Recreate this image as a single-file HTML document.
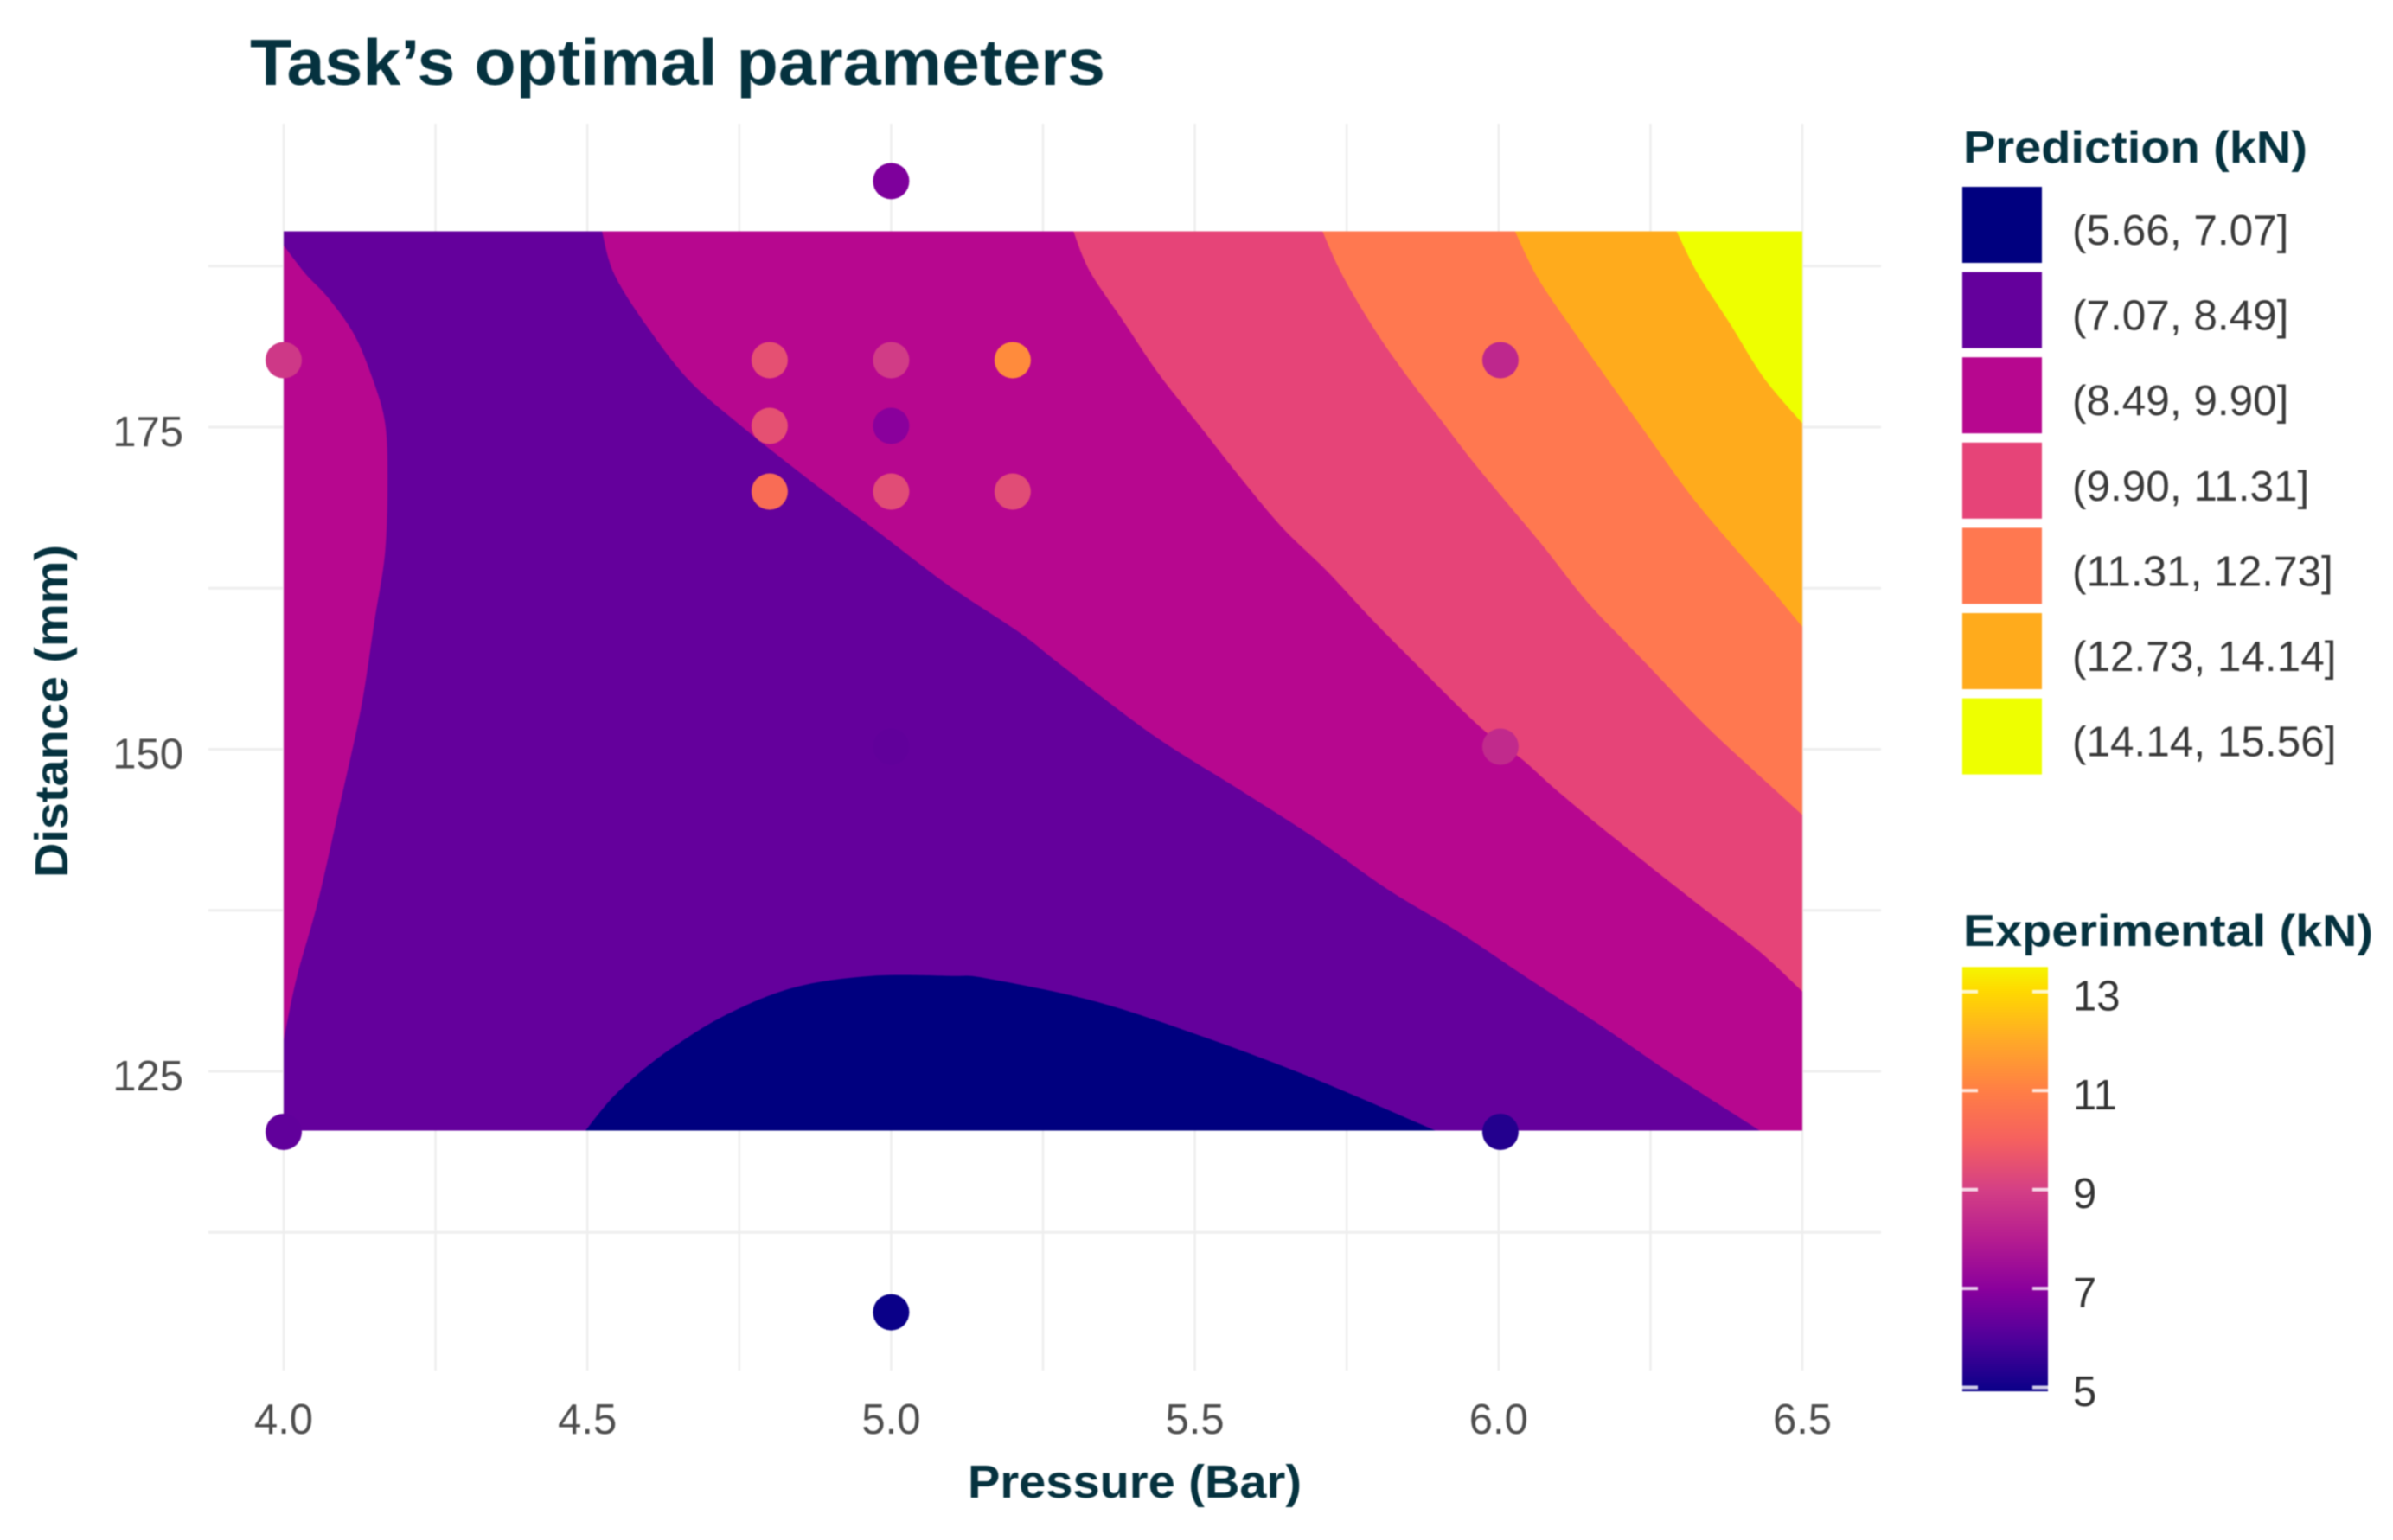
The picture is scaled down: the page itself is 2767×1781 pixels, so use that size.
<!DOCTYPE html>
<html lang="en">
<head>
<meta charset="utf-8">
<title>Task's optimal parameters</title>
<style>
html,body{margin:0;padding:0;background:#fff;}
svg{display:block;filter:blur(0.7px);}
text{font-family:"Liberation Sans",sans-serif;}
.bold{font-weight:700;fill:#05323f;}
</style>
</head>
<body>
<svg id="chart" xmlns="http://www.w3.org/2000/svg" width="2767" height="1781" viewBox="0 0 2767 1781">
  <rect width="2767" height="1781" fill="#ffffff"/>
  <defs>
    <linearGradient id="cbar" x1="0" y1="1" x2="0" y2="0"></linearGradient>
  </defs>
  <g id="grid"></g>
  <g id="bands"></g>
  <g id="points"></g>
  <g id="xticks"></g>
  <g id="yticks"></g>
  <g id="legend"></g>
  <g id="colorbar"></g>

  <text class="bold" x="289" y="98" font-size="75" textLength="989" lengthAdjust="spacingAndGlyphs">Task’s optimal parameters</text>
  <text class="bold" x="1119" y="1732" font-size="54" textLength="386" lengthAdjust="spacingAndGlyphs">Pressure (Bar)</text>
  <text class="bold" transform="translate(78,1015) rotate(-90)" font-size="54" textLength="385" lengthAdjust="spacingAndGlyphs">Distance (mm)</text>
  <text class="bold" x="2270" y="188" font-size="52" textLength="398" lengthAdjust="spacingAndGlyphs">Prediction (kN)</text>
  <text class="bold" x="2270" y="1094" font-size="52" textLength="474" lengthAdjust="spacingAndGlyphs">Experimental (kN)</text>
</svg>
<script>
// ---- axis data ----
const xMajorTicks = [4.0, 4.5, 5.0, 5.5, 6.0, 6.5];
const xTickLabels = ["4.0", "4.5", "5.0", "5.5", "6.0", "6.5"];
const xMinorTicks = [4.25, 4.75, 5.25, 5.75, 6.25];
const yMajorTicks = [125, 150, 175];
const yTickLabels = ["125", "150", "175"];
const yMinorTicks = [112.5, 137.5, 162.5, 187.5];

// ---- contour extent and boundaries, as [pressure, distance] ----
const pMin = 4.0, pMax = 6.5, dMin = 120.4, dMax = 190.2;
const boundaryNavy = [[4.497,120.4],[4.54,122.9],[4.591,125.1],[4.648,127.1],[4.729,129.4],[4.839,131.5],[4.967,132.4],[5.099,132.4],[5.159,132.2],[5.338,130.4],[5.519,127.6],[5.698,124.4],[5.896,120.4]];
const boundaryLeft = [[4.0,189.1],[4.036,186.9],[4.074,185.0],[4.117,182.1],[4.149,178.4],[4.167,175.3],[4.171,171.2],[4.167,165.3],[4.149,159.8],[4.127,153.1],[4.093,145.8],[4.056,138.1],[4.021,132.2],[4.0,127.4]];
const boundaryMagenta = [[4.524,190.2],[4.544,186.9],[4.597,182.9],[4.668,178.6],[4.753,175.1],[4.857,171.2],[4.975,167.0],[5.095,162.7],[5.213,159.0],[5.278,156.6],[5.428,151.2],[5.579,146.7],[5.698,143.1],[5.818,139.1],[5.938,135.7],[6.049,132.2],[6.167,128.6],[6.285,124.8],[6.43,120.4]];
const boundaryPink = [[5.3,190.2],[5.327,187.1],[5.384,183.1],[5.441,179.1],[5.508,175.1],[5.573,171.2],[5.644,167.2],[5.716,163.9],[5.787,160.3],[5.854,157.1],[5.968,151.8],[6.039,149.2],[6.096,146.8],[6.191,143.1],[6.333,137.8],[6.427,134.4],[6.5,131.2]];
const boundaryOrange = [[5.71,190.2],[5.744,186.7],[5.801,182.2],[5.858,178.4],[5.906,175.5],[5.953,172.6],[6.0,169.9],[6.071,165.9],[6.143,161.6],[6.205,158.5],[6.248,156.4],[6.333,152.2],[6.405,149.0],[6.5,144.9]];
const boundaryAmber = [[6.027,190.2],[6.063,186.7],[6.114,183.1],[6.163,179.8],[6.234,175.1],[6.313,169.9],[6.38,166.1],[6.447,162.5],[6.5,159.5]];
const boundaryYellow = [[6.293,190.2],[6.328,186.9],[6.38,183.1],[6.437,178.8],[6.5,175.3]];

// ---- experimental points ----
const pointPressure = [5.0, 4.0, 4.8, 5.0, 5.2, 6.003, 4.8, 5.0, 4.8, 5.0, 5.2, 5.0, 6.003, 4.0, 6.003, 5.0];
const pointDistance = [194.1, 180.2, 180.2, 180.2, 180.2, 180.2, 175.1, 175.1, 170.0, 170.0, 170.0, 150.2, 150.2, 120.3, 120.3, 106.3];
const pointForce = [6.8, 8.8, 9.5, 8.9, 11.3, 8.3, 9.5, 7.0, 10.4, 9.4, 9.4, 6.3, 8.4, 6.3, 5.3, 4.92];

// ---- legends ----
const bandLabels = ["(5.66, 7.07]", "(7.07, 8.49]", "(8.49, 9.90]", "(9.90, 11.31]", "(11.31, 12.73]", "(12.73, 14.14]", "(14.14, 15.56]"];
const bandColors = ["#00007f", "#64009c", "#b7078f", "#e64478", "#ff7850", "#ffab1c", "#eeff00"];
const colorbarTicks = [13, 11, 9, 7, 5];
const colorValues = [4.92, 6, 7, 8, 9, 10, 11, 12, 13, 13.5];
const colorHex = ["#0a0088", "#50009a", "#8a009c", "#b51c90", "#d43f85", "#f5605f", "#ff7e45", "#ffa828", "#ffd800", "#f5f500"];

// ---- scales ----
function xScale(p) { return 328 + (p - 4) * 702.4; }
function yScale(d) { return 1239 - (d - 125) * 14.9; }
function cbScale(v) { return 1604.5 - (v - 5) * 57.2; }

const NS = "http://www.w3.org/2000/svg";
function make(tag, parent, attrs, text) {
  const el = document.createElementNS(NS, tag);
  for (const k in attrs) el.setAttribute(k, attrs[k]);
  if (text !== undefined) el.textContent = text;
  parent.appendChild(el);
  return el;
}
function hexToRgb(h) {
  return [parseInt(h.slice(1,3),16), parseInt(h.slice(3,5),16), parseInt(h.slice(5,7),16)];
}
function forceColor(v) {
  if (v <= colorValues[0]) return colorHex[0];
  for (let i = 1; i < colorValues.length; i++) {
    if (v <= colorValues[i]) {
      const t = (v - colorValues[i-1]) / (colorValues[i] - colorValues[i-1]);
      const a = hexToRgb(colorHex[i-1]), b = hexToRgb(colorHex[i]);
      return "rgb(" + a.map((c, j) => Math.round(c + (b[j] - c) * t)).join(",") + ")";
    }
  }
  return colorHex[colorHex.length - 1];
}

// ---- gridlines ----
const grid = document.getElementById("grid");
xMajorTicks.concat(xMinorTicks).forEach(function (p) {
  const l = make("line", grid, {x1: xScale(p), x2: xScale(p), y1: 143, y2: 1585, stroke: "#eeeeee", "stroke-width": 2.5});
  
  
});
yMajorTicks.concat(yMinorTicks).forEach(function (d) {
  const l = make("line", grid, {x1: 241, x2: 2175, y1: yScale(d), y2: yScale(d), stroke: "#eeeeee", "stroke-width": 3});
  
  
});

// ---- contour bands ----
const bands = document.getElementById("bands");
// smooth curve through a boundary (Catmull-Rom), then straight lines along the plot edge
function pathFrom(boundary, corners) {
  const px = boundary.map(function (q) { return [xScale(q[0]), yScale(q[1])]; });
  let d = "M" + px[0][0].toFixed(1) + " " + px[0][1].toFixed(1);
  for (let i = 0; i < px.length - 1; i++) {
    const p0 = px[Math.max(i - 1, 0)], p1 = px[i], p2 = px[i + 1], p3 = px[Math.min(i + 2, px.length - 1)];
    const c1x = p1[0] + (p2[0] - p0[0]) / 6, c1y = p1[1] + (p2[1] - p0[1]) / 6;
    const c2x = p2[0] - (p3[0] - p1[0]) / 6, c2y = p2[1] - (p3[1] - p1[1]) / 6;
    d += "C" + c1x.toFixed(1) + " " + c1y.toFixed(1) + " " + c2x.toFixed(1) + " " + c2y.toFixed(1) + " " + p2[0].toFixed(1) + " " + p2[1].toFixed(1);
  }
  (corners || []).forEach(function (q) {
    d += "L" + xScale(q[0]).toFixed(1) + " " + yScale(q[1]).toFixed(1);
  });
  return d + "Z";
}
const baseBand = make("path", bands, {d: pathFrom([[pMin,dMin],[pMin,dMax]], [[pMax,dMax],[pMax,dMin]]), fill: bandColors[1]});



const navyBand = make("path", bands, {d: pathFrom(boundaryNavy), fill: bandColors[0]});



const leftBand = make("path", bands, {d: pathFrom(boundaryLeft), fill: bandColors[2]});



const magentaBand = make("path", bands, {d: pathFrom(boundaryMagenta, [[pMax,dMin],[pMax,dMax]]), fill: bandColors[2]});



const pinkBand = make("path", bands, {d: pathFrom(boundaryPink, [[pMax,dMax]]), fill: bandColors[3]});



const orangeBand = make("path", bands, {d: pathFrom(boundaryOrange, [[pMax,dMax]]), fill: bandColors[4]});



const amberBand = make("path", bands, {d: pathFrom(boundaryAmber, [[pMax,dMax]]), fill: bandColors[5]});



const yellowBand = make("path", bands, {d: pathFrom(boundaryYellow, [[pMax,dMax]]), fill: bandColors[6]});



// ---- points ----
const pointsGroup = document.getElementById("points");
pointForce.forEach(function (v, i) {
  const c = make("circle", pointsGroup, {cx: xScale(pointPressure[i]), cy: yScale(pointDistance[i]), r: 21, fill: forceColor(v)});
  
  
});

// ---- tick labels ----
const xt = document.getElementById("xticks");
xMajorTicks.forEach(function (p, i) {
  const t = make("text", xt, {x: xScale(p), y: 1658, "font-size": 49, fill: "#4d4d4d", "text-anchor": "middle"}, xTickLabels[i]);
  
  
});
const yt = document.getElementById("yticks");
yMajorTicks.forEach(function (d, i) {
  const t = make("text", yt, {x: 212, y: yScale(d) + 22, "font-size": 49, fill: "#4d4d4d", "text-anchor": "end"}, yTickLabels[i]);
  
  
});

// ---- prediction legend ----
const legend = document.getElementById("legend");
bandLabels.forEach(function (label, i) {
  const top = 216 + i * 98.6;
  const r = make("rect", legend, {x: 2269, y: top, width: 92, height: 88, fill: bandColors[i]});
  
  
  const t = make("text", legend, {x: 2396, y: top + 67, "font-size": 49.5, fill: "#3a3a3a"}, label);
  
  
});

// ---- colour bar ----
const grad = document.getElementById("cbar");
const cbTopV = colorValues[colorValues.length - 1], cbBotV = colorValues[0];
colorValues.forEach(function (v, i) {
  make("stop", grad, {offset: (v - cbBotV) / (cbTopV - cbBotV), "stop-color": colorHex[i]});
});
const cbGroup = document.getElementById("colorbar");
const cbRect = make("rect", cbGroup, {x: 2269, y: cbScale(cbTopV), width: 99, height: cbScale(cbBotV) - cbScale(cbTopV), fill: "url(#cbar)"});


colorbarTicks.forEach(function (v) {
  const yy = cbScale(v);
  const a = make("line", cbGroup, {x1: 2269, x2: 2287, y1: yy, y2: yy, stroke: "#ffffff", "stroke-opacity": 0.8, "stroke-width": 4});
  
  
  const b = make("line", cbGroup, {x1: 2350, x2: 2368, y1: yy, y2: yy, stroke: "#ffffff", "stroke-opacity": 0.8, "stroke-width": 4});
  
  
  const t = make("text", cbGroup, {x: 2397, y: yy + 21.5, "font-size": 49, fill: "#333333"}, String(v));
  
  
});
</script>
</body>
</html>
